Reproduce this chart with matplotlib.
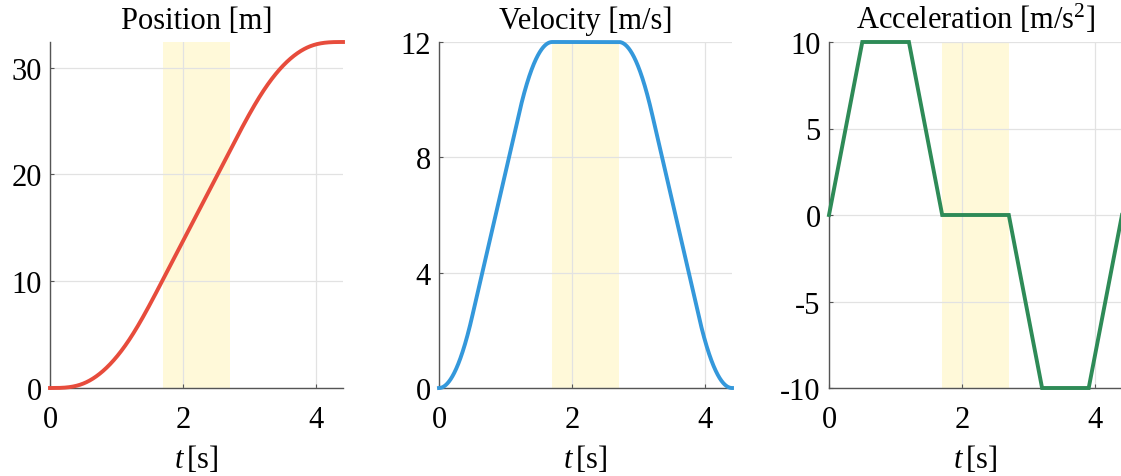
import numpy as np
import matplotlib.pyplot as plt

# jerk-limited motion profile: acceleration breakpoints
t_knots = [0.0, 0.5, 1.2, 1.7, 2.7, 3.2, 3.9, 4.4]
acc_knots = [0, 10, 10, 0, 0, -10, -10, 0]
cruise = (1.7, 2.7)

titles = ['Position [m]', 'Velocity [m/s]', 'Acceleration [m/s$^2$]']
yticks = [[0, 10, 20, 30], [0, 4, 8, 12], [-10, -5, 0, 5, 10]]
colors = ['#E74C3C', '#3498DB', '#2E8B57']
xticks = [0, 2, 4]

# integrate acceleration to get velocity and position
t = np.linspace(t_knots[0], t_knots[-1], 4001)
acc = np.interp(t, t_knots, acc_knots)
dt = np.diff(t)
vel = np.concatenate([[0], np.cumsum((acc[1:] + acc[:-1]) / 2 * dt)])
pos = np.concatenate([[0], np.cumsum((vel[1:] + vel[:-1]) / 2 * dt)])

plt.rcParams['font.family'] = 'Liberation Serif'
plt.rcParams['mathtext.fontset'] = 'custom'
plt.rcParams['mathtext.it'] = 'Liberation Serif:italic'
plt.rcParams['mathtext.rm'] = 'Liberation Serif'
plt.rcParams['axes.unicode_minus'] = False

fs = 22
fig = plt.figure(figsize=(11.21, 4.77), dpi=100)
lefts = [50 / 1121, 439 / 1121, 829 / 1121]
series = [pos, vel, acc]
ylims = [(0, pos.max()), (0, 12), (-10, 10)]

for i in range(3):
    ax = fig.add_axes([lefts[i], 88 / 477, 293 / 1121, 346 / 477])
    ax.axvspan(cruise[0], cruise[1], color='#FFF9D9', lw=0, zorder=0)
    if i == 2:
        ax.plot(t_knots, acc_knots, color=colors[i], lw=2.8, zorder=3,
                clip_on=False, solid_joinstyle='miter')
    else:
        ax.plot(t, series[i], color=colors[i], lw=2.8, zorder=3, clip_on=False)
    ax.set_xlim(0, 4.4)
    ax.set_ylim(*ylims[i])
    ax.set_xticks(xticks)
    ax.set_yticks(yticks[i])
    ax.grid(True, color='#E2E2E2', lw=0.9, zorder=1)
    ax.set_axisbelow(True)
    for s in ['top', 'right']:
        ax.spines[s].set_visible(False)
    for s in ['left', 'bottom']:
        ax.spines[s].set_color('#555555')
        ax.spines[s].set_linewidth(1.0)
    ax.tick_params(direction='in', length=3, color='#555555', labelsize=fs)
    ax.tick_params(axis='y', pad=6)
    ax.tick_params(axis='x', pad=12)
    ax.set_title(titles[i], fontsize=fs, pad=10)
    ax.set_xlabel(r'$t\,$[s]', fontsize=fs, labelpad=7)

fig.savefig('out.png', dpi=100)
